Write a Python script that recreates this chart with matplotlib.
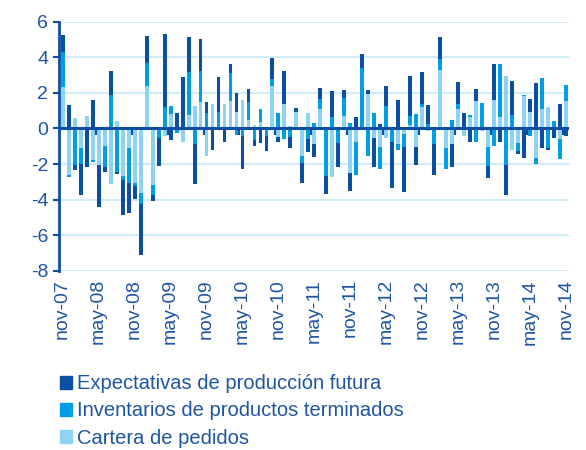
import numpy as np
import matplotlib
matplotlib.use("Agg")
import matplotlib.pyplot as plt
from matplotlib.patches import Patch

plt.rcParams['font.family'] = ['Liberation Sans', 'DejaVu Sans']
plt.rcParams['axes.unicode_minus'] = False

# monthly data, nov-07 .. nov-14
cartera = [2.3, -2.6, 0.6, -1.1, 0.7, -1.78, -2.06, -0.97, -3.1, 0.4,
           -2.67, -1.12, -3.05, -3.6, 2.37, -3.2, 0, -0.4, 0.8, 0,
           -0.75, 0.75, 1.27, 1.5, -1.55, 1.35, 0, 1.4, 1.53, 0.9,
           1.6, 0.5, 0.22, 0.37, 0, 2.39, -0.47, 1.35, 0.15, 0.95,
           -1.52, 0.86, -0.9, 1.08, 0, -2.72, 0, 0.7, -2.52, -0.75,
           0, 1.93, -0.55, -1.03, -0.52, 0, -0.9, -0.32, 0.19, -1.03,
           1.21, -0.15, 0, 3.27, -1.08, -0.85, 1.08, -0.42, 0.65, 1.55,
           -0.15, -1.03, 1.57, 0.65, 2.95, -1.21, -0.84, 1.81, 0.93, -1.64,
           1.07, 1.21, 0, -0.6, 1.53]
inventarios = [2.0, -0.1, -2.05, -0.9, 0, -0.1, 0, -1.18, 1.9, -2.45,
               -0.2, -1.95, -0.2, -0.65, 1.33, -0.55, -0.55, 1.18, 0.45, -0.28,
               0, 2.4, -0.9, 1.72, 0.84, 0, 0.9, 0, 1.59, -0.35,
               -0.4, 1.0, -0.65, 0.71, -0.41, 0.36, 0.84, -0.62, -0.5, 0,
               -0.44, -0.58, 0.32, 0.56, -2.66, 0.62, -0.8, 1.0, 0.3, -1.87,
               3.37, -1.52, 0.84, -1.27, 1.25, -0.78, -0.32, -0.71, 0.52, 0.8,
               0.19, 0.24, -0.9, 0.62, -1.2, 0.47, 0.28, 0, 0.1, -0.75,
               1.44, -1.1, -1.0, 2.97, -2.03, 0.75, -0.43, 0.06, -0.43, -0.36,
               1.79, -1.12, 0.43, -1.14, 0.9]
expectativas = [0.95, 1.3, -0.28, -1.75, -2.15, 1.57, -2.35, -0.28, 1.33, -0.1,
                -2.0, -1.7, -0.7, -2.85, 1.5, -0.35, -1.55, 4.1, -0.65, 0.84,
                2.88, 2.0, -2.2, 1.78, 0.64, -1.2, 2.0, -0.75, 0.5, 1.1,
                -1.87, 0.7, -0.32, -0.8, -0.86, 1.2, -0.28, 1.9, -0.6, 0.2,
                -1.08, -0.73, -0.7, 0.62, -1.03, 1.46, -1.36, 0.47, -0.97, 0.65,
                0.79, 0.22, -1.6, 0.24, 1.12, -2.58, 1.59, -2.56, 2.24, -1.03,
                1.78, 1.1, -1.7, 1.22, 0, -1.31, 1.27, 0.88, -0.78, 0.65,
                0, -0.67, 2.03, -0.75, -1.73, 1.91, -0.19, -1.64, 0.71, 2.56,
                -1.12, -0.1, -0.52, 1.35, -0.41]

tick_labels = ['nov-07', 'may-08', 'nov-08', 'may-09', 'nov-09', 'may-10',
               'nov-10', 'may-11', 'nov-11', 'may-12', 'nov-12', 'may-13',
               'nov-13', 'may-14', 'nov-14']

c_dark = '#0b4ea2'
c_mid = '#009ee2'
c_light = '#8ed3f4'
txt = '#1f55a3'
grid_c = '#c8e8f8'

x = np.arange(len(cartera))

fig = plt.figure(figsize=(5.86, 4.5), dpi=100)
ax = fig.add_axes([0.1012, 0.398, 0.8703, 0.554])

# stacked: light next to zero, then mid, then dark; positives and negatives apart
pos_base = np.zeros(len(x))
neg_base = np.zeros(len(x))
for vals, col in [(cartera, c_light), (inventarios, c_mid), (expectativas, c_dark)]:
    v = np.array(vals)
    pos = np.where(v > 0, v, 0)
    neg = np.where(v < 0, v, 0)
    ax.bar(x, pos, bottom=pos_base, width=0.66, color=col, linewidth=0, zorder=2)
    ax.bar(x, neg, bottom=neg_base, width=0.66, color=col, linewidth=0, zorder=2)
    pos_base += pos
    neg_base += neg

ax.set_ylim(-8, 6)
ax.set_xlim(-0.55, len(x) - 0.5)
ax.set_yticks(np.arange(-8, 7, 2))
ax.yaxis.grid(True, color=grid_c, linewidth=1.2, zorder=0)
ax.set_axisbelow(True)

# zero line with category tick marks every 6 months
ax.axhline(0, color=c_dark, linewidth=2.2, zorder=3)
ax.vlines(np.arange(5.5, len(x), 6), -0.37, 0, color=c_dark, linewidth=1.5, zorder=3)

ax.set_xticks(np.arange(0, len(x), 6))
ax.set_xticklabels(tick_labels, rotation=90, fontsize=14, color=txt)
ax.tick_params(axis='x', length=0, pad=6)
ax.tick_params(axis='y', length=4, width=1.5, color=c_dark, labelsize=14,
               labelcolor=txt, pad=4)

for s in ['top', 'right', 'bottom']:
    ax.spines[s].set_visible(False)
ax.spines['left'].set_color(c_dark)
ax.spines['left'].set_linewidth(2)

handles = [Patch(color=c_dark), Patch(color=c_mid), Patch(color=c_light)]
labels = ['Expectativas de producción futura',
          'Inventarios de productos terminados',
          'Cartera de pedidos']
fig.legend(handles, labels, loc='upper left', bbox_to_anchor=(0.102, 0.168),
           frameon=False, fontsize=14.5, labelcolor=txt, handlelength=0.62,
           handleheight=0.62, handletextpad=0.22, labelspacing=0.4,
           borderpad=0, borderaxespad=0)

fig.savefig('out.png', dpi=100)
